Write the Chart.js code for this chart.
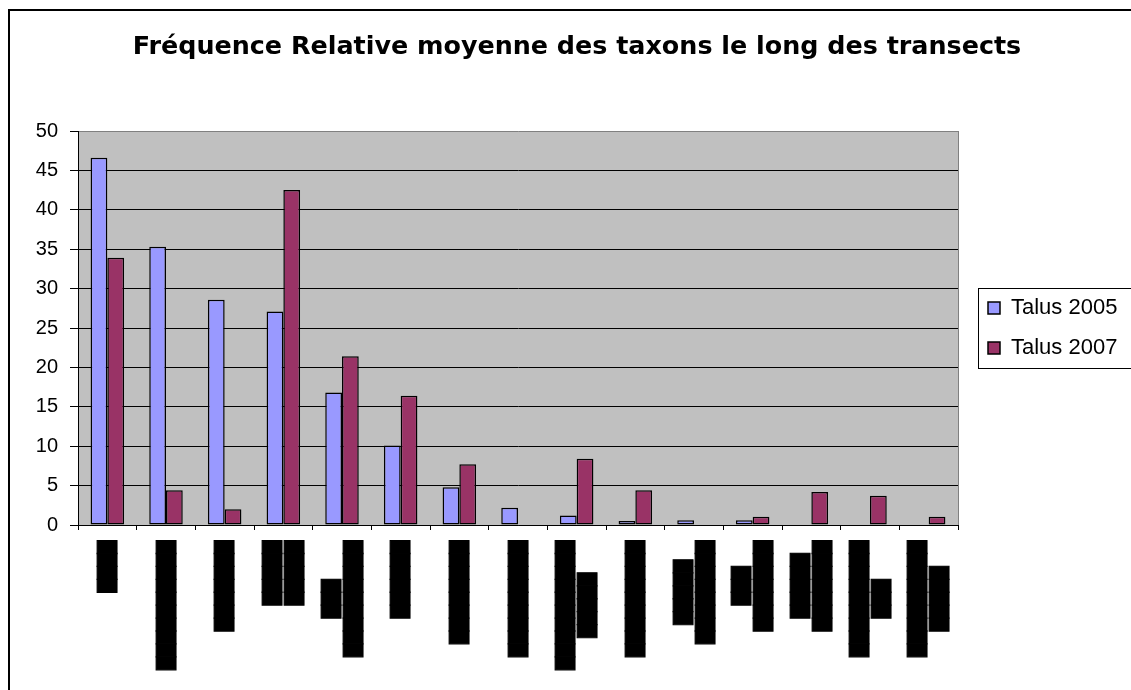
<!DOCTYPE html>
<html><head><meta charset="utf-8">
<script src="https://cdn.jsdelivr.net/npm/chart.js@4.4.1/dist/chart.umd.min.js"></script>
<style>
html,body{margin:0;padding:0;background:#fff;overflow:hidden;width:1131px;height:690px}
#wrap{position:absolute;left:0;top:0;width:1131px;height:690px}
#frame{position:absolute;left:8px;top:9px;width:1300px;height:900px;border:2px solid #000;pointer-events:none}
</style></head><body>
<div id="wrap"><canvas id="c" width="1131" height="690"></canvas></div>
<div id="frame"></div>
<script>
const chartTitle = 'Fréquence Relative moyenne des taxons le long des transects';
// category labels are redacted (blacked out) in the reference
const categories = [
  ['████'],
  ['██████████'],
  ['███████'],
  ['█████', '█████'],
  ['███', '█████████'],
  ['██████'],
  ['████████'],
  ['█████████'],
  ['██████████', '█████'],
  ['█████████'],
  ['█████', '████████'],
  ['███', '███████'],
  ['█████', '███████'],
  ['█████████', '███'],
  ['█████████', '█████']
];
const seriesNames = ['Talus 2005', 'Talus 2007'];
const talus2005 = [46.6, 35.3, 28.6, 27.1, 16.8, 10.1, 4.8, 2.2, 1.2, 0.5, 0.6, 0.6, 0, 0, 0];
const talus2007 = [33.9, 4.4, 2.0, 42.5, 21.4, 16.4, 7.7, 0, 8.4, 4.4, 0, 1.05, 4.2, 3.7, 1.05];
const yTickValues = [0, 5, 10, 15, 20, 25, 30, 35, 40, 45, 50];

const SANS = '"Liberation Sans", Arial, sans-serif';

const plotBg = {
  id: 'plotBg',
  beforeDraw(chart) {
    const {ctx, chartArea: a} = chart;
    ctx.save();
    ctx.fillStyle = '#C0C0C0';
    ctx.fillRect(a.left, a.top, a.right - a.left, a.bottom - a.top);
    ctx.restore();
  },
  beforeDatasetsDraw(chart) {
    const {ctx, chartArea: a} = chart;
    ctx.save();
    ctx.strokeStyle = '#808080';
    ctx.lineWidth = 1;
    ctx.beginPath();
    ctx.moveTo(Math.round(a.right) + 0.5, a.top);
    ctx.lineTo(Math.round(a.right) + 0.5, a.bottom);
    ctx.stroke();
    ctx.restore();
  }
};

const boxShift = {
  id: 'boxShift',
  afterLayout(chart) {
    const l = chart.legend;
    if (l) { l.left += 12; l.right = l.left + 250; }
    const t = chart.titleBlock;
    if (t) { t.left += 11.5; t.right += 11.5; }
  },
  afterDraw(chart) {
    const l = chart.legend;
    if (!l || !l.legendHitBoxes || !l.legendHitBoxes.length) return;
    const hb = l.legendHitBoxes;
    const last = hb[hb.length - 1];
    const ctx = chart.ctx;
    const x = Math.round(hb[0].left - 10) + 0.5;
    const y = Math.round(hb[0].top - 9) + 0.5;
    const h = Math.round(last.top + last.height + 9) - Math.round(hb[0].top - 9);
    ctx.save();
    ctx.strokeStyle = '#000';
    ctx.lineWidth = 1;
    ctx.strokeRect(x, y, 300, h);
    ctx.restore();
  }
};

const xLabelPlugin = {
  id: 'xLabels',
  afterDraw(chart) {
    const ctx = chart.ctx, xs = chart.scales.x;
    ctx.save();
    ctx.font = '100px "DejaVu Sans"';
    const m = ctx.measureText('█');
    const thick = m.actualBoundingBoxAscent + m.actualBoundingBoxDescent;
    const size = 100 * 20 / thick;
    ctx.font = size.toFixed(2) + 'px "DejaVu Sans"';
    const mm = ctx.measureText('█');
    const asc = mm.actualBoundingBoxAscent, desc = mm.actualBoundingBoxDescent;
    ctx.fillStyle = '#000';
    ctx.strokeStyle = '#000';
    ctx.lineWidth = 1;
    ctx.lineJoin = 'miter';
    ctx.textAlign = 'center';
    ctx.textBaseline = 'alphabetic';
    const top = xs.bottom + 10;
    const pitch = 22;
    chart.data.labels.forEach((lab, i) => {
      const lines = Array.isArray(lab) ? lab : [lab];
      const maxW = Math.max(...lines.map(s => ctx.measureText(s).width));
      ctx.save();
      ctx.translate(xs.getPixelForValue(i), top + maxW / 2 + 0.5);
      ctx.rotate(-Math.PI / 2);
      lines.forEach((s, j) => {
        const c = (j - (lines.length - 1) / 2) * pitch;
        const yy = c + (asc - desc) / 2;
        ctx.fillText(s, 0, yy);
        ctx.strokeText(s, 0, yy);
      });
      ctx.restore();
    });
    ctx.restore();
  }
};

new Chart(document.getElementById('c'), {
  type: 'bar',
  data: {
    labels: categories,
    datasets: [
      { label: seriesNames[0], data: talus2005, backgroundColor: '#9999FF', borderColor: '#000', borderWidth: 1.5, borderSkipped: false, categoryPercentage: 0.571, barPercentage: 1 },
      { label: seriesNames[1], data: talus2007, backgroundColor: '#993366', borderColor: '#000', borderWidth: 1.5, borderSkipped: false, categoryPercentage: 0.571, barPercentage: 1 }
    ]
  },
  options: {
    responsive: false,
    devicePixelRatio: 1,
    animation: false,
    events: [],
    layout: { padding: { left: 33, right: 33, top: 0, bottom: 160 } },
    plugins: {
      title: {
        display: true, text: chartTitle, color: '#000',
        font: { family: '"DejaVu Sans", sans-serif', size: 25.4, weight: 'bold' },
        padding: { top: 32, bottom: 68.52 }
      },
      legend: {
        position: 'right',
        fullSize: false,
        maxWidth: 140,
        labels: {
          color: '#000',
          font: { family: SANS, size: 22 },
          boxWidth: 12, boxHeight: 12, padding: 18
        }
      },
      tooltip: { enabled: false }
    },
    scales: {
      x: {
        ticks: { display: false },
        grid: { display: true, drawOnChartArea: false, drawTicks: true, tickLength: 5, color: '#000', tickColor: '#000', offset: true },
        border: { color: '#000', width: 1 }
      },
      y: {
        min: 0, max: 50,
        afterBuildTicks: s => { s.ticks = yTickValues.map(v => ({ value: v })); },
        afterFit: s => { s.width = 45; },
        ticks: { color: '#000', font: { family: SANS, size: 20 }, padding: 12 },
        grid: {
          color: c => (c.tick && c.tick.value === 50) ? '#808080' : '#000',
          tickColor: '#000', tickLength: 8, lineWidth: 1
        },
        border: { color: '#000', width: 1 }
      }
    }
  },
  plugins: [plotBg, boxShift, xLabelPlugin]
});
</script>
</body></html>
